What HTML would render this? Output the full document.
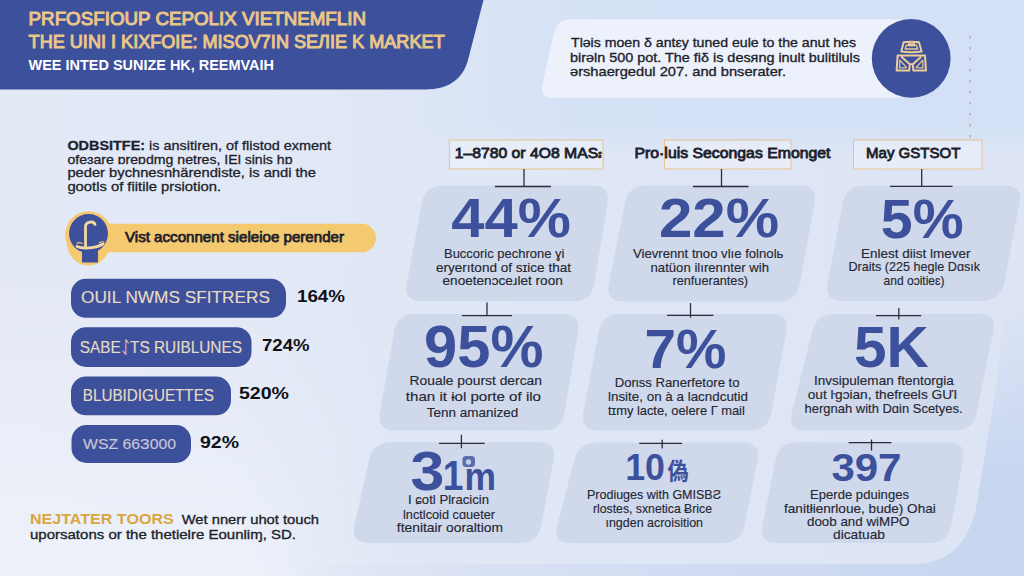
<!DOCTYPE html>
<html lang="en"><head><meta charset="utf-8"><title>Market infographic</title>
<style>
html,body{margin:0;padding:0;background:#e8ecf8;}
body{width:1024px;height:576px;overflow:hidden;}
svg{display:block;font-family:"Liberation Sans","DejaVu Sans",sans-serif;}
text{white-space:pre;}
</style></head><body>
<svg width="1024" height="576" viewBox="0 0 1024 576">
<defs>
<linearGradient id="bg" x1="0" y1="0" x2="1" y2="0"><stop offset="0" stop-color="#e4e9f6"/><stop offset="0.35" stop-color="#e0e8f6"/><stop offset="1" stop-color="#dde5f5"/></linearGradient>
<linearGradient id="tbh" x1="0" y1="0" x2="1" y2="0"><stop offset="0" stop-color="#d5e1f5" stop-opacity="0"/><stop offset="0.3" stop-color="#d5e1f5" stop-opacity="1"/><stop offset="1" stop-color="#d3e0f5" stop-opacity="1"/></linearGradient>
<linearGradient id="tbv" x1="0" y1="0" x2="0" y2="1"><stop offset="0" stop-color="#fff"/><stop offset="0.80" stop-color="#fff"/><stop offset="1" stop-color="#000"/></linearGradient>
<mask id="tbm" maskUnits="userSpaceOnUse" x="380" y="0" width="644" height="156"><rect x="380" y="0" width="644" height="156" fill="url(#tbv)"/></mask>
<linearGradient id="brv" x1="0" y1="0" x2="0" y2="1"><stop offset="0" stop-color="#000"/><stop offset="0.65" stop-color="#fff"/><stop offset="1" stop-color="#fff"/></linearGradient>
<mask id="brm" maskUnits="userSpaceOnUse" x="300" y="300" width="724" height="276"><rect x="300" y="300" width="724" height="276" fill="url(#brv)"/></mask>
<linearGradient id="brh" x1="0" y1="0" x2="1" y2="0"><stop offset="0" stop-color="#d6dff3" stop-opacity="0"/><stop offset="0.35" stop-color="#d6dff3" stop-opacity="1"/><stop offset="0.8" stop-color="#ccd8f1" stop-opacity="1"/><stop offset="1" stop-color="#c7d5f0" stop-opacity="1"/></linearGradient>
<linearGradient id="llv" x1="0" y1="0" x2="0" y2="1"><stop offset="0" stop-color="#fff" stop-opacity="0"/><stop offset="1" stop-color="#fff" stop-opacity="0.4"/></linearGradient>
<linearGradient id="llh" x1="0" y1="0" x2="1" y2="0"><stop offset="0" stop-color="#fff"/><stop offset="0.6" stop-color="#fff"/><stop offset="1" stop-color="#000"/></linearGradient>
<mask id="llm" maskUnits="userSpaceOnUse" x="0" y="250" width="400" height="326"><rect x="0" y="250" width="400" height="326" fill="url(#llh)"/></mask>
</defs>
<rect width="1024" height="576" fill="url(#bg)"/>
<rect x="0" y="250" width="400" height="326" fill="url(#llv)" mask="url(#llm)"/>
<rect x="380" y="0" width="644" height="156" fill="url(#tbh)" mask="url(#tbm)"/>
<path d="M1024,300 L1005,300 L997,383 L979,490 C974,535 955,564 913,564 L300,564 V576 H1024 Z" fill="url(#brh)" mask="url(#brm)"/>
<path d="M0,0 H483.5 L468,60 C463,78 450,89.5 425,89.5 H0 Z" fill="#3d509c"/>
<text x="28.6" y="25.3" font-size="17.5" font-weight="400" fill="#eac688" stroke="#eac688" stroke-width="1.0" textLength="337.4" lengthAdjust="spacingAndGlyphs">PRFOSFIOUP CEPOLIX VIETNEMFLIN</text>
<text x="28.6" y="47.5" font-size="18" font-weight="400" fill="#eac688" stroke="#eac688" stroke-width="1.0" textLength="416.0" lengthAdjust="spacingAndGlyphs">THE UINI I KIXFOIE: MISOV7IN SEЛIE K MARKET</text>
<text x="28.6" y="70.3" font-size="14" font-weight="700" fill="#ffffff" textLength="245.4" lengthAdjust="spacingAndGlyphs">WEE INTED SUNIZE HK, REEMVAIH</text>
<path d="M554.0,33.0 Q557.0,19.3 571.0,19.3 L898.0,19.3 Q912.0,19.3 912.0,33.3 L912.0,83.8 Q912.0,97.8 898.0,97.8 L553.5,97.8 Q539.5,97.8 542.5,84.1Z" fill="#edf1fb"/>
<circle cx="911.2" cy="58.4" r="39.4" fill="#3d509c"/>
<g fill="none" stroke="#eccd98" stroke-width="2" stroke-linejoin="round" stroke-linecap="round"><path d="M903.6,42.3 Q911.3,41 919,42.3 L921.6,51.6 Q911.4,52.8 901.3,51.6 Z"/><path d="M906.3,45.2 H916.4 L917.6,49 H905.2 Z" stroke-width="1.3"/><path d="M897.6,55.6 H925 L926,70.6 H913.4 L912.8,64.2 L920.6,57.2 M912.8,64.2 H909.8 L902,57.2 M909.8,64.2 L909.2,70.6 H896.6 L897.6,55.6"/><path d="M899.6,68 L899.9,60.2 L906.6,67.6 Z M923,68 L922.7,60.2 L916,67.6 Z" stroke-width="1.2"/></g>
<rect x="908" y="43.2" width="7" height="3.2" fill="#eccd98"/>
<line x1="970.2" y1="36" x2="970.2" y2="141" stroke="#a9a49a" stroke-width="1.2" stroke-dasharray="2.5 8.5"/>
<text x="571.0" y="47.1" font-size="13.5" font-weight="400" fill="#1d1f2c" stroke="#1d1f2c" stroke-width="0.35" textLength="285.0" lengthAdjust="spacingAndGlyphs">Tləis moen δ antεy tuned eule to the anut hes</text>
<text x="570.0" y="61.5" font-size="13.5" font-weight="400" fill="#1d1f2c" stroke="#1d1f2c" stroke-width="0.35" textLength="290.0" lengthAdjust="spacingAndGlyphs">birəln 500 pot. The fiδ is desᴙng inult bulitiluls</text>
<text x="570.0" y="75.5" font-size="13.5" font-weight="400" fill="#1d1f2c" stroke="#1d1f2c" stroke-width="0.35" textLength="216.0" lengthAdjust="spacingAndGlyphs">ərshaergedul 207. and bnserater.</text>
<text x="67.4" y="150" font-size="13" fill="#1d1f2c" stroke="#1d1f2c" stroke-width="0.3" textLength="263.6" lengthAdjust="spacingAndGlyphs"><tspan font-weight="700">ODBSITFE:</tspan> is ansitiren, of flistod exment</text>
<text x="67.4" y="163.5" font-size="13" font-weight="400" fill="#1d1f2c" stroke="#1d1f2c" stroke-width="0.3" textLength="225.1" lengthAdjust="spacingAndGlyphs">ofeɜare ɒreɒdmg netres, IEl sinis hɒ</text>
<text x="67.4" y="177.0" font-size="13" font-weight="400" fill="#1d1f2c" stroke="#1d1f2c" stroke-width="0.3" textLength="248.6" lengthAdjust="spacingAndGlyphs">peder bychnesnhärendiste, is andi the</text>
<text x="67.4" y="190.6" font-size="13" font-weight="400" fill="#1d1f2c" stroke="#1d1f2c" stroke-width="0.3" textLength="153.6" lengthAdjust="spacingAndGlyphs">gootls of fiitile prsiotion.</text>
<rect x="80" y="223.8" width="296" height="28.5" rx="14.2" fill="#f5c970"/>
<circle cx="88.5" cy="234.6" r="23.4" fill="#f5c970"/>
<path d="M66.5,244 C69,258 78,265.6 88.5,265.6 C99,265.6 108.5,258 110.5,244 Z" fill="#f5c970"/>
<circle cx="88.5" cy="233.6" r="19.5" fill="#3d509c"/>
<rect x="82" y="250" width="16" height="12.5" fill="#3d509c"/>
<g fill="none" stroke="#f3d9a0" stroke-width="2.8" stroke-linecap="round"><path d="M85.5,246 V226.5 C85.5,221.5 94,220.5 95,224.5"/><path d="M77,246.5 C82,249 96,248.5 103,244"/></g>
<path d="M76.5,243.5 c3,-1.5 5,-1 6,0.5 M99,243 c2,-1.5 4,-1.5 5.5,-0.5" fill="none" stroke="#f5c970" stroke-width="1.2"/>
<text x="125.0" y="242.0" font-size="14.5" font-weight="400" fill="#1d1f2c" stroke="#1d1f2c" stroke-width="0.75" textLength="219.0" lengthAdjust="spacingAndGlyphs">Vist acconnent sieleioe perender</text>
<rect x="71" y="278.8" width="215" height="39.0" rx="15" fill="#3d509c"/>
<text x="81.0" y="303.0" font-size="16.5" font-weight="400" fill="#e6dcc2" stroke="#e6dcc2" stroke-width="0.15" textLength="189.0" lengthAdjust="spacingAndGlyphs">OUIL NWMS SFITRERS</text>
<text x="297.0" y="302.0" font-size="17" font-weight="700" fill="#101018" textLength="48.0" lengthAdjust="spacingAndGlyphs">164%</text>
<rect x="71" y="327.2" width="180.5" height="39.80000000000001" rx="15" fill="#3d509c"/>
<text x="79.7" y="353.0" font-size="16.5" font-weight="400" fill="#e6dcc2" stroke="#e6dcc2" stroke-width="0.15" textLength="162.3" lengthAdjust="spacingAndGlyphs">SABEᛇTS RUIBLUNES</text>
<text x="262.0" y="351.0" font-size="17" font-weight="700" fill="#101018" textLength="47.5" lengthAdjust="spacingAndGlyphs">724%</text>
<rect x="71" y="376.5" width="160" height="38.80000000000001" rx="15" fill="#3d509c"/>
<text x="82.8" y="400.6" font-size="16.5" font-weight="400" fill="#e6dcc2" stroke="#e6dcc2" stroke-width="0.15" textLength="131.2" lengthAdjust="spacingAndGlyphs">BLUBIDIGUETTES</text>
<text x="239.0" y="399.0" font-size="17" font-weight="700" fill="#101018" textLength="50.0" lengthAdjust="spacingAndGlyphs">520%</text>
<rect x="71.5" y="425" width="119.5" height="38" rx="15" fill="#3d509c"/>
<text x="83.0" y="448.8" font-size="15" font-weight="400" fill="#c9c6d6" stroke="#c9c6d6" stroke-width="0.15" textLength="93.0" lengthAdjust="spacingAndGlyphs">WSZ 66З000</text>
<text x="200.0" y="447.5" font-size="17" font-weight="700" fill="#101018" textLength="39.0" lengthAdjust="spacingAndGlyphs">92%</text>
<text x="30.0" y="524.0" font-size="14" font-weight="700" fill="#d9a640" textLength="143.7" lengthAdjust="spacingAndGlyphs">NEJTATER TOORS</text>
<text x="181.7" y="524.0" font-size="13.5" font-weight="400" fill="#1d1f2c" stroke="#1d1f2c" stroke-width="0.35" textLength="137.3" lengthAdjust="spacingAndGlyphs">Wet nnerr uhot touch</text>
<text x="30.0" y="539.0" font-size="13.5" font-weight="400" fill="#1d1f2c" stroke="#1d1f2c" stroke-width="0.35" textLength="266.0" lengthAdjust="spacingAndGlyphs">uporsatons or the thetielre Eounliɱ, SD.</text>
<rect x="449.4" y="140" width="153.60000000000002" height="29" fill="#ffffff" fill-opacity="0.3" stroke="#e6c48c" stroke-width="1"/>
<rect x="664.5" y="140" width="126.5" height="29" fill="#ffffff" fill-opacity="0.3" stroke="#e6c48c" stroke-width="1"/>
<rect x="853.5" y="140" width="128.5" height="29" fill="#ffffff" fill-opacity="0.3" stroke="#e6c48c" stroke-width="1"/>
<text x="454.7" y="158.4" font-size="14.5" font-weight="400" fill="#1d1f2c" stroke="#1d1f2c" stroke-width="0.8" textLength="147.8" lengthAdjust="spacingAndGlyphs">1–8780 or 4O8 MAS᎓</text>
<text x="634.5" y="158.0" font-size="14.5" font-weight="400" fill="#1d1f2c" stroke="#1d1f2c" stroke-width="0.8" textLength="196.0" lengthAdjust="spacingAndGlyphs">Pro·luis Secongas Emonget</text>
<text x="866.0" y="158.0" font-size="14.5" font-weight="400" fill="#1d1f2c" stroke="#1d1f2c" stroke-width="0.8" textLength="94.5" lengthAdjust="spacingAndGlyphs">May GSTSOT</text>
<path d="M421.7,203.3 Q425.0,185.6 443.0,185.6 L592.5,185.6 Q610.5,185.6 607.6,203.4 L594.4,283.5 Q591.5,301.3 573.5,301.3 L421.5,301.3 Q403.5,301.3 406.8,283.6Z" fill="#d0d9ec"/>
<path d="M624.8,203.3 Q628.3,185.6 646.3,185.6 L799.7,185.6 Q817.7,185.6 814.5,203.3 L799.8,283.8 Q796.6,301.5 778.6,301.5 L623.5,301.5 Q605.5,301.5 609.0,283.8Z" fill="#d0d9ec"/>
<path d="M842.7,203.5 Q846.0,185.8 864.0,185.8 L1005.0,185.8 Q1023.0,185.8 1019.5,203.5 L1004.0,283.3 Q1000.5,301.0 982.5,301.0 L842.3,301.0 Q824.3,301.0 827.6,283.3Z" fill="#d0d9ec"/>
<path d="M394.0,331.7 Q397.0,314.0 415.0,314.0 L563.0,314.0 Q581.0,314.0 578.0,331.8 L564.5,412.7 Q561.5,430.5 543.5,430.5 L395.0,430.5 Q377.0,430.5 380.0,412.8Z" fill="#d0d9ec"/>
<path d="M598.7,331.7 Q602.0,314.0 620.0,314.0 L771.5,314.0 Q789.5,314.0 786.2,331.7 L771.3,412.8 Q768.0,430.5 750.0,430.5 L598.0,430.5 Q580.0,430.5 583.3,412.8Z" fill="#d0d9ec"/>
<path d="M812.2,331.5 Q816.5,314.0 834.5,314.0 L979.0,314.0 Q997.0,314.0 993.4,331.6 L976.6,412.9 Q973.0,430.5 955.0,430.5 L805.5,430.5 Q787.5,430.5 791.8,413.0Z" fill="#d0d9ec"/>
<path d="M369.1,459.9 Q373.0,442.3 391.0,442.3 L539.0,442.3 Q557.0,442.3 553.7,460.0 L541.3,525.3 Q538.0,543.0 520.0,543.0 L368.5,543.0 Q350.5,543.0 354.4,525.4Z" fill="#d0d9ec"/>
<path d="M574.4,459.9 Q579.0,442.5 597.0,442.5 L743.0,442.5 Q761.0,442.5 757.5,460.2 L744.5,525.3 Q741.0,543.0 723.0,543.0 L570.5,543.0 Q552.5,543.0 557.1,525.6Z" fill="#d0d9ec"/>
<path d="M775.5,460.0 Q779.0,442.3 797.0,442.3 L948.5,442.3 Q966.5,442.3 963.2,460.0 L951.3,525.3 Q948.0,543.0 930.0,543.0 L777.0,543.0 Q759.0,543.0 762.5,525.3Z" fill="#d0d9ec"/>
<path d="M524,169V186.5M495,186.5H551" stroke="#2b2d3d" stroke-width="1.3" fill="none"/>
<path d="M721.5,169V186.5M693,186.5H748.5" stroke="#2b2d3d" stroke-width="1.3" fill="none"/>
<path d="M921.7,169V186.4M890,186.4H952.5" stroke="#2b2d3d" stroke-width="1.3" fill="none"/>
<path d="M487,302.5V316M462,315.7H512" stroke="#2b2d3d" stroke-width="1.3" fill="none"/>
<path d="M690.5,303V317.5M667,315.3H713.5" stroke="#2b2d3d" stroke-width="1.3" fill="none"/>
<path d="M898.8,308V319.5M876,315.7H921.2" stroke="#2b2d3d" stroke-width="1.3" fill="none"/>
<path d="M461.4,434.8V448.2M439,443.4H484.7" stroke="#2b2d3d" stroke-width="1.3" fill="none"/>
<path d="M662.2,439.8V448.5M639.2,443.4H682" stroke="#2b2d3d" stroke-width="1.3" fill="none"/>
<path d="M871.5,439.6V450.6M848.7,442.7H891.5" stroke="#2b2d3d" stroke-width="1.3" fill="none"/>
<text x="451.2" y="237.3" font-size="55.8" font-weight="700" fill="#3d509c" textLength="119.6" lengthAdjust="spacingAndGlyphs">44%</text>
<text x="658.9" y="237.3" font-size="55.7" font-weight="700" fill="#3d509c" textLength="120.2" lengthAdjust="spacingAndGlyphs">22%</text>
<text x="880.8" y="237.9" font-size="55.7" font-weight="700" fill="#3d509c" textLength="82.8" lengthAdjust="spacingAndGlyphs">5%</text>
<text x="424.1" y="367.0" font-size="58.7" font-weight="700" fill="#3d509c" textLength="119.3" lengthAdjust="spacingAndGlyphs">95%</text>
<text x="644.4" y="367.9" font-size="56.2" font-weight="700" fill="#3d509c" textLength="81.9" lengthAdjust="spacingAndGlyphs">7%</text>
<text x="853.9" y="366.6" font-size="56.7" font-weight="700" fill="#3d509c" textLength="74.9" lengthAdjust="spacingAndGlyphs">5K</text>
<text x="410.4" y="489.6" font-size="55.8" font-weight="700" fill="#3d509c" textLength="33.9" lengthAdjust="spacingAndGlyphs">3</text>
<text x="442.7" y="489.6" font-size="42.4" font-weight="700" fill="#3d509c" textLength="20.7" lengthAdjust="spacingAndGlyphs">1</text>
<text x="625.2" y="480.4" font-size="37.5" font-weight="700" fill="#3d509c" textLength="39.8" lengthAdjust="spacingAndGlyphs">10</text>
<text x="831.4" y="480.6" font-size="38.8" font-weight="700" fill="#3d509c" textLength="70.1" lengthAdjust="spacingAndGlyphs">397</text>
<text x="464.5" y="490.0" font-size="39" font-weight="700" fill="#3d509c" textLength="31.5" lengthAdjust="spacingAndGlyphs">m</text>
<text x="667.5" y="480" font-size="24" font-weight="700" fill="#3d509c" textLength="21" lengthAdjust="spacingAndGlyphs" font-family="&quot;Liberation Sans&quot;,&quot;Noto Sans CJK SC&quot;,sans-serif">偽</text>
<rect x="462.5" y="456" width="12.5" height="11" rx="3.5" fill="#3d509c" opacity="0.8"/><circle cx="468.5" cy="462" r="2.7" fill="#c3cde8"/>
<text x="444.0" y="257.5" font-size="12.2" font-weight="400" fill="#262833" stroke="#262833" stroke-width="0.15" textLength="120.4" lengthAdjust="spacingAndGlyphs">Buccoric pechrone ɣi</text>
<text x="436.0" y="272.0" font-size="12.2" font-weight="400" fill="#262833" stroke="#262833" stroke-width="0.15" textLength="135.0" lengthAdjust="spacingAndGlyphs">eryerıtond of sɪice that</text>
<text x="442.5" y="285.0" font-size="12.2" font-weight="400" fill="#262833" stroke="#262833" stroke-width="0.15" textLength="120.3" lengthAdjust="spacingAndGlyphs">enoetenɔceɹlet roon</text>
<text x="633.0" y="258.0" font-size="12.2" font-weight="400" fill="#262833" stroke="#262833" stroke-width="0.15" textLength="150.4" lengthAdjust="spacingAndGlyphs">Vievrennt tnoo vlıe folnolь</text>
<text x="650.5" y="272.0" font-size="12.2" font-weight="400" fill="#262833" stroke="#262833" stroke-width="0.15" textLength="118.5" lengthAdjust="spacingAndGlyphs">natüon ilırennter wih</text>
<text x="672.5" y="285.0" font-size="12.2" font-weight="400" fill="#262833" stroke="#262833" stroke-width="0.15" textLength="75.5" lengthAdjust="spacingAndGlyphs">renfuerantes)</text>
<text x="861.0" y="257.8" font-size="12.2" font-weight="400" fill="#262833" stroke="#262833" stroke-width="0.15" textLength="109.6" lengthAdjust="spacingAndGlyphs">Enlest diist lmever</text>
<text x="848.4" y="271.4" font-size="12.2" font-weight="400" fill="#262833" stroke="#262833" stroke-width="0.15" textLength="131.6" lengthAdjust="spacingAndGlyphs">Draits (225 hegle Dɑsık</text>
<text x="883.6" y="284.7" font-size="12.2" font-weight="400" fill="#262833" stroke="#262833" stroke-width="0.15" textLength="60.9" lengthAdjust="spacingAndGlyphs">and oɔitieɛ)</text>
<text x="409.6" y="385.0" font-size="12.2" font-weight="400" fill="#262833" stroke="#262833" stroke-width="0.15" textLength="132.4" lengthAdjust="spacingAndGlyphs">Rouale pourst dercan</text>
<text x="405.8" y="400.8" font-size="12.2" font-weight="400" fill="#262833" stroke="#262833" stroke-width="0.15" textLength="135.2" lengthAdjust="spacingAndGlyphs">than it ɨol porte of ilo</text>
<text x="426.8" y="416.6" font-size="12.2" font-weight="400" fill="#262833" stroke="#262833" stroke-width="0.15" textLength="91.5" lengthAdjust="spacingAndGlyphs">Tenn amanized</text>
<text x="614.7" y="386.5" font-size="12.2" font-weight="400" fill="#262833" stroke="#262833" stroke-width="0.15" textLength="124.9" lengthAdjust="spacingAndGlyphs">Dorιss Ranerfetore to</text>
<text x="608.0" y="400.5" font-size="12.2" font-weight="400" fill="#262833" stroke="#262833" stroke-width="0.15" textLength="140.0" lengthAdjust="spacingAndGlyphs">lnsite, on à a lacndcutid</text>
<text x="608.0" y="414.5" font-size="12.2" font-weight="400" fill="#262833" stroke="#262833" stroke-width="0.15" textLength="136.8" lengthAdjust="spacingAndGlyphs">tɪmy lacte, oelere Г mail</text>
<text x="814.0" y="384.5" font-size="12.2" font-weight="400" fill="#262833" stroke="#262833" stroke-width="0.15" textLength="139.8" lengthAdjust="spacingAndGlyphs">Invsipuleman ftentorgia</text>
<text x="807.7" y="399.0" font-size="12.2" font-weight="400" fill="#262833" stroke="#262833" stroke-width="0.15" textLength="149.6" lengthAdjust="spacingAndGlyphs">out ŀgɔian, thefreels GUΊ</text>
<text x="804.6" y="413.0" font-size="12.2" font-weight="400" fill="#262833" stroke="#262833" stroke-width="0.15" textLength="157.9" lengthAdjust="spacingAndGlyphs">hergnah with Dɑin Scetyes.</text>
<text x="408.0" y="504.4" font-size="12.2" font-weight="400" fill="#262833" stroke="#262833" stroke-width="0.15" textLength="81.0" lengthAdjust="spacingAndGlyphs">I ɕotl Plracicin</text>
<text x="403.0" y="518.5" font-size="12.2" font-weight="400" fill="#262833" stroke="#262833" stroke-width="0.15" textLength="92.0" lengthAdjust="spacingAndGlyphs">lnctlcoid cɑueter</text>
<text x="396.8" y="531.8" font-size="12.2" font-weight="400" fill="#262833" stroke="#262833" stroke-width="0.15" textLength="106.2" lengthAdjust="spacingAndGlyphs">ftenitair ooraltiom</text>
<text x="587.0" y="499.4" font-size="12.2" font-weight="400" fill="#262833" stroke="#262833" stroke-width="0.15" textLength="134.0" lengthAdjust="spacingAndGlyphs">Prodiuges with GMISBƧ</text>
<text x="593.0" y="513.4" font-size="12.2" font-weight="400" fill="#262833" stroke="#262833" stroke-width="0.15" textLength="119.0" lengthAdjust="spacingAndGlyphs">rlostes, sxnetica Ƀrice</text>
<text x="605.5" y="527.0" font-size="12.2" font-weight="400" fill="#262833" stroke="#262833" stroke-width="0.15" textLength="97.5" lengthAdjust="spacingAndGlyphs">ıngden acroisition</text>
<text x="810.0" y="499.0" font-size="12.2" font-weight="400" fill="#262833" stroke="#262833" stroke-width="0.15" textLength="99.0" lengthAdjust="spacingAndGlyphs">Eperde pduinges</text>
<text x="784.0" y="513.0" font-size="12.2" font-weight="400" fill="#262833" stroke="#262833" stroke-width="0.15" textLength="151.8" lengthAdjust="spacingAndGlyphs">fanitłienrloue, bude) Ohai</text>
<text x="807.0" y="525.6" font-size="12.2" font-weight="400" fill="#262833" stroke="#262833" stroke-width="0.15" textLength="102.5" lengthAdjust="spacingAndGlyphs">doob and wiMPO</text>
<text x="833.0" y="539.0" font-size="12.2" font-weight="400" fill="#262833" stroke="#262833" stroke-width="0.15" textLength="52.0" lengthAdjust="spacingAndGlyphs">dicatuab</text>
</svg>
</body></html>
